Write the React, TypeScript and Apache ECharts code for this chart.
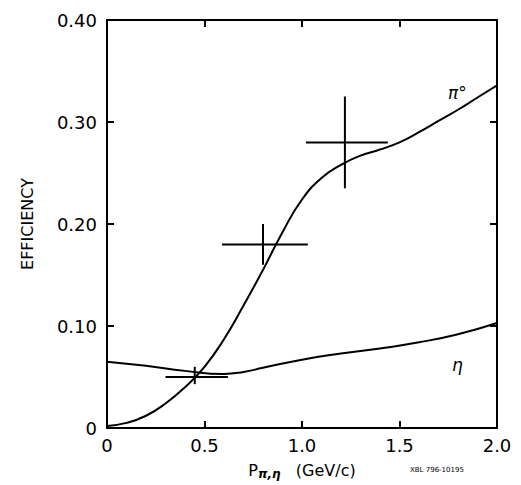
import React, { useEffect, useRef } from "react";
import * as echarts from "echarts";

// curves
const pi0Curve: [number, number][] = [
  [0, 0.002], [0.1, 0.005], [0.2, 0.012], [0.3, 0.024], [0.4, 0.04], [0.5, 0.06],
  [0.6, 0.087], [0.7, 0.12], [0.8, 0.155], [0.9, 0.192], [1.0, 0.224], [1.1, 0.245],
  [1.2, 0.258], [1.3, 0.267], [1.4, 0.273], [1.5, 0.28], [1.6, 0.29], [1.7, 0.301],
  [1.8, 0.312], [1.9, 0.324], [2.0, 0.336],
];
const etaCurve: [number, number][] = [
  [0, 0.065], [0.2, 0.061], [0.4, 0.056], [0.6, 0.053], [0.7, 0.055], [0.8, 0.059],
  [1.0, 0.067], [1.2, 0.073], [1.4, 0.078], [1.6, 0.084], [1.8, 0.092], [2.0, 0.103],
];
// [x, y, xLow, xHigh, yLow, yHigh]
const points: number[][] = [
  [0.45, 0.05, 0.3, 0.62, 0.043, 0.06],
  [0.8, 0.18, 0.59, 1.03, 0.16, 0.2],
  [1.22, 0.28, 1.02, 1.44, 0.235, 0.325],
];
const xTicks = ["0", "0.5", "1.0", "1.5", "2.0"];
const yTicks = ["0", "0.10", "0.20", "0.30", "0.40"];

const font = "DejaVu Sans";

export default function App() {
  const ref = useRef<HTMLDivElement>(null);
  useEffect(() => {
    document.body.style.margin = "0";
    if (!ref.current) return;
    const chart = echarts.init(ref.current, undefined, { renderer: "svg" });
    const axisCommon = {
      axisLine: { show: true, onZero: false, lineStyle: { color: "#000", width: 2 } },
      axisTick: { inside: true, length: 7, lineStyle: { color: "#000", width: 2 } },
      splitLine: { show: false },
    };
    chart.setOption({
      animation: false,
      backgroundColor: "#fff",
      grid: { left: 107, right: 24, top: 20, bottom: 48 },
      xAxis: [
        {
          type: "value", min: 0, max: 2, interval: 0.5, ...axisCommon,
          axisLabel: {
            color: "#000", fontFamily: font, fontSize: 18, margin: 8,
            formatter: (v: number) => xTicks[Math.round(v / 0.5)],
          },
          name: "{b|P}{s|π,η}{b|   (GeV/c)}", nameLocation: "middle", nameGap: 32,
          nameTextStyle: {
            rich: {
              b: { fontFamily: font, fontSize: 16, color: "#000" },
              s: { fontFamily: font, fontSize: 12, color: "#000", fontStyle: "italic", fontWeight: "bold", padding: [8, 0, 0, 0] },
            },
          },
        },
        { type: "value", min: 0, max: 2, interval: 0.5, position: "top", ...axisCommon, axisLabel: { show: false } },
      ],
      yAxis: [
        {
          type: "value", min: 0, max: 0.4, interval: 0.1, ...axisCommon,
          axisLabel: {
            color: "#000", fontFamily: font, fontSize: 18, margin: 10,
            formatter: (v: number) => yTicks[Math.round(v / 0.1)],
          },
          name: "EFFICIENCY", nameLocation: "middle", nameGap: 72,
          nameTextStyle: { fontFamily: font, fontSize: 16, color: "#000" },
        },
        { type: "value", min: 0, max: 0.4, interval: 0.1, position: "right", ...axisCommon, axisLabel: { show: false } },
      ],
      series: [
        { type: "line", data: pi0Curve, smooth: true, symbol: "none", lineStyle: { color: "#000", width: 2 } },
        { type: "line", data: etaCurve, smooth: true, symbol: "none", lineStyle: { color: "#000", width: 2 } },
        {
          type: "custom",
          data: points,
          renderItem: (_p: any, api: any) => {
            const x = api.value(0), y = api.value(1);
            const a = api.coord([api.value(2), y]);
            const b = api.coord([api.value(3), y]);
            const c = api.coord([x, api.value(4)]);
            const d = api.coord([x, api.value(5)]);
            const style = { stroke: "#000", lineWidth: 2 };
            return {
              type: "group",
              children: [
                { type: "line", shape: { x1: a[0], y1: a[1], x2: b[0], y2: b[1] }, style },
                { type: "line", shape: { x1: c[0], y1: c[1], x2: d[0], y2: d[1] }, style },
              ],
            };
          },
        },
      ],
      graphic: [
        { type: "text", left: 448, top: 84, style: { text: "π°", font: `italic 17px ${font}`, fill: "#000" } },
        { type: "text", left: 452, top: 356, style: { text: "η", font: `italic 17px ${font}`, fill: "#000" } },
        { type: "text", left: 410, top: 466, style: { text: "XBL 796-10195", font: `7px ${font}`, fill: "#000" } },
      ],
    });
    return () => chart.dispose();
  }, []);
  return <div ref={ref} style={{ width: 521, height: 485 }} />;
}
